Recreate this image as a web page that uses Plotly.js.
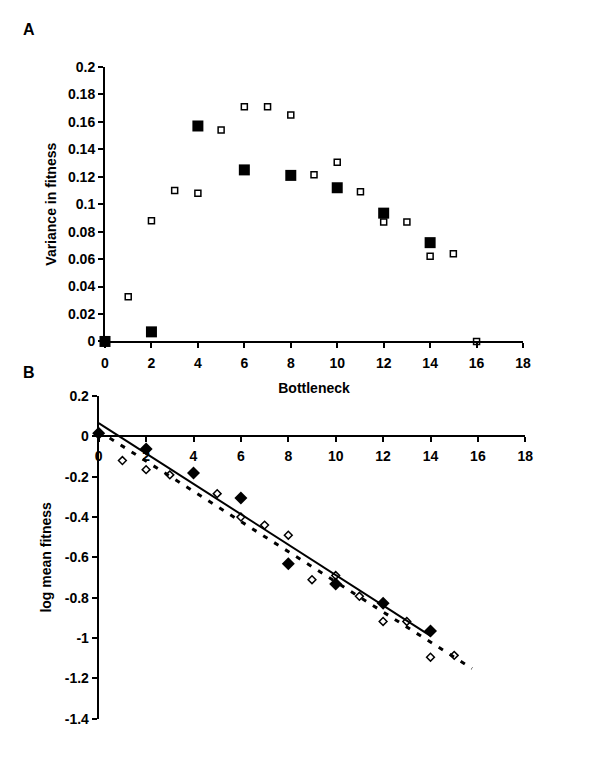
<!DOCTYPE html>
<html>
<head>
<meta charset="utf-8">
<script src="https://cdn.plot.ly/plotly-3.0.1.min.js"></script>
<style>html,body{margin:0;padding:0;background:#fff;}#chart{width:600px;height:761px;}</style>
</head>
<body>
<div id="chart"></div>
<script>
// ---- Panel A: variance in fitness ----
const aFilledX = [0, 2, 4, 6, 8, 10, 12, 14];
const aFilledY = [0, 0.007, 0.157, 0.125, 0.121, 0.112, 0.0935, 0.072];
const aOpenX = [1, 2, 3, 4, 5, 6, 7, 8, 9, 10, 11, 12, 13, 14, 15, 16];
const aOpenY = [0.0325, 0.088, 0.110, 0.108, 0.154, 0.171, 0.171, 0.165, 0.1215, 0.1305, 0.109, 0.087, 0.087, 0.062, 0.064, 0];
const aYTickVals = [0, 0.02, 0.04, 0.06, 0.08, 0.1, 0.12, 0.14, 0.16, 0.18, 0.2];
const aYTickText = ['0', '0.02', '0.04', '0.06', '0.08', '0.1', '0.12', '0.14', '0.16', '0.18', '0.2'];

// ---- Panel B: log mean fitness ----
const bFilledX = [0, 2, 4, 6, 8, 10, 12, 14];
const bFilledY = [0.015, -0.063, -0.182, -0.306, -0.632, -0.732, -0.828, -0.965];
const bOpenX = [1, 2, 3, 5, 6, 7, 8, 9, 10, 11, 12, 13, 14, 15];
const bOpenY = [-0.12, -0.165, -0.191, -0.284, -0.40, -0.44, -0.49, -0.711, -0.69, -0.793, -0.918, -0.918, -1.095, -1.086];
const bYTickVals = [0.2, 0, -0.2, -0.4, -0.6, -0.8, -1, -1.2, -1.4];
const bYTickText = ['0.2', '0', '-0.2', '-0.4', '-0.6', '-0.8', '-1', '-1.2', '-1.4'];
const bDashedSpan = [0, 15.75];

function linfit(xs, ys) {
  const n = xs.length;
  const mx = xs.reduce((a, b) => a + b, 0) / n;
  const my = ys.reduce((a, b) => a + b, 0) / n;
  let sxy = 0, sxx = 0;
  for (let i = 0; i < n; i++) { sxy += (xs[i] - mx) * (ys[i] - my); sxx += (xs[i] - mx) ** 2; }
  const m = sxy / sxx;
  return { m: m, b: my - m * mx };
}
const fitFilled = linfit(bFilledX, bFilledY);
const fitOpen = linfit(bOpenX, bOpenY);
const solidX = [Math.min(...bFilledX), Math.max(...bFilledX)];
const solidY = solidX.map(x => fitFilled.b + fitFilled.m * x);
const dashY = bDashedSpan.map(x => fitOpen.b + fitOpen.m * x);

const FONT = 'Liberation Sans, Arial, Helvetica, sans-serif';
const tf = { family: FONT, size: 14, color: '#000', weight: 'bold' };

const traces = [
  { x: aOpenX, y: aOpenY, xaxis: 'x', yaxis: 'y', type: 'scatter', mode: 'markers', cliponaxis: false,
    marker: { symbol: 'square', size: 6, color: '#fff', line: { color: '#000', width: 1.5 } } },
  { x: aFilledX, y: aFilledY, xaxis: 'x', yaxis: 'y', type: 'scatter', mode: 'markers', cliponaxis: false,
    marker: { symbol: 'square', size: 11, color: '#000', line: { width: 0 } } },
  { x: bOpenX, y: bOpenY, xaxis: 'x2', yaxis: 'y2', type: 'scatter', mode: 'markers', cliponaxis: false,
    marker: { symbol: 'diamond', size: 6, color: '#fff', line: { color: '#000', width: 1.5 } } },
  { x: bDashedSpan, y: dashY, xaxis: 'x2', yaxis: 'y2', type: 'scatter', mode: 'lines', cliponaxis: false,
    line: { color: '#000', width: 3, dash: '5px,8px' } },
  { x: solidX, y: solidY, xaxis: 'x2', yaxis: 'y2', type: 'scatter', mode: 'lines', cliponaxis: false,
    line: { color: '#000', width: 2 } },
  { x: bFilledX, y: bFilledY, xaxis: 'x2', yaxis: 'y2', type: 'scatter', mode: 'markers', cliponaxis: false,
    marker: { symbol: 'diamond', size: 10, color: '#000', line: { width: 0 } } }
];

const axBase = {
  showline: true, linecolor: '#000', linewidth: 2, ticks: 'outside', ticklen: 5, tickwidth: 2,
  tickcolor: '#000', showgrid: false, zeroline: false, tickfont: tf, fixedrange: true
};

const layout = {
  width: 600, height: 761,
  margin: { l: 0, r: 0, t: 0, b: 0 },
  paper_bgcolor: '#fff', plot_bgcolor: 'rgba(0,0,0,0)',
  showlegend: false,
  font: tf,
  xaxis: Object.assign({}, axBase, {
    domain: [0.175, 0.8717], range: [0, 18], tick0: 0, dtick: 2, anchor: 'y', ticklabelstandoff: 3,
    title: { text: 'Bottleneck', font: tf, standoff: 13 }
  }),
  yaxis: Object.assign({}, axBase, {
    domain: [0.5513, 0.912], range: [0, 0.2], anchor: 'x',
    tickmode: 'array', tickvals: aYTickVals, ticktext: aYTickText,
    title: { text: 'Variance in fitness', font: tf, standoff: 8 }
  }),
  xaxis2: Object.assign({}, axBase, {
    domain: [0.1645, 0.8755], range: [0, 18], tick0: 0, dtick: 2, ticklabelstandoff: 3,
    anchor: 'free', position: 0.4275, layer: 'below traces'
  }),
  yaxis2: Object.assign({}, axBase, {
    domain: [0.0556, 0.4796], range: [-1.4, 0.2], anchor: 'x2', layer: 'below traces',
    tickmode: 'array', tickvals: bYTickVals, ticktext: bYTickText,
    title: { text: 'log mean fitness', font: tf, standoff: 10 }
  }),
  annotations: [
    { text: 'A', xref: 'paper', yref: 'paper', x: 29 / 600, y: 1 - 30 / 761, showarrow: false,
      xanchor: 'center', yanchor: 'middle', font: { family: FONT, size: 16, color: '#000', weight: 'bold' } },
    { text: 'B', xref: 'paper', yref: 'paper', x: 29 / 600, y: 1 - 372 / 761, showarrow: false,
      xanchor: 'center', yanchor: 'middle', font: { family: FONT, size: 16, color: '#000', weight: 'bold' } }
  ]
};

Plotly.newPlot('chart', traces, layout, { staticPlot: true, displayModeBar: false });
</script>
</body>
</html>
